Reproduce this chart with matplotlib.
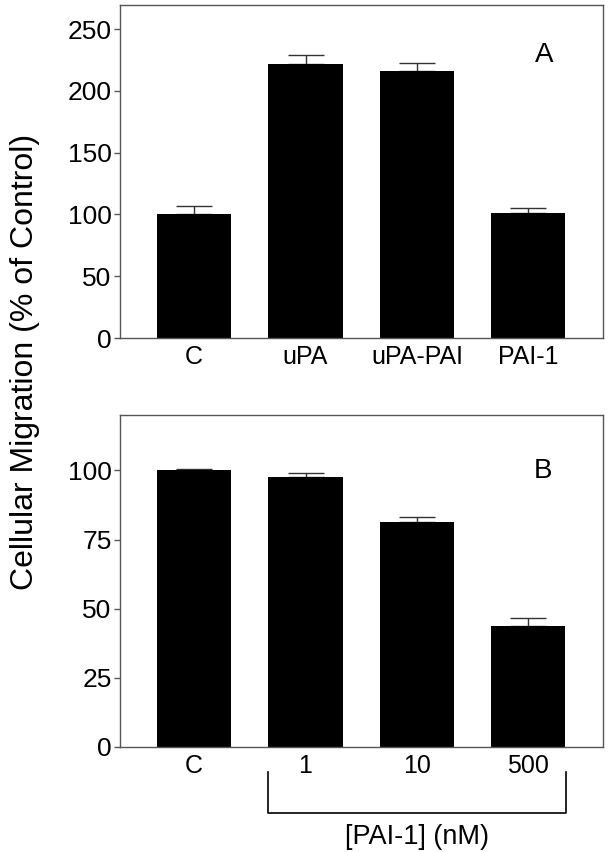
import matplotlib
matplotlib.use("Agg")
import matplotlib.pyplot as plt

plt.rcParams['font.family'] = ['Liberation Sans', 'DejaVu Sans']

# Panel A data
cats_a = ["C", "uPA", "uPA-PAI", "PAI-1"]
vals_a = [100, 222, 216, 101]
errs_a = [6.5, 7.5, 7, 4]

# Panel B data
cats_b = ["C", "1", "10", "500"]
vals_b = [100, 97.7, 81.5, 43.9]
errs_b = [0.6, 1.2, 1.6, 2.6]

spine_col = "#555555"
W, H = 608, 852
fig = plt.figure(figsize=(W / 100, H / 100), dpi=100)

ax_a = fig.add_axes([120 / W, 1 - 338 / H, 483 / W, 333.5 / H])
ax_b = fig.add_axes([120 / W, 1 - 747 / H, 483 / W, 332 / H])


def draw_panel(ax, cats, vals, errs, ylim, yticks, letter, lpos):
    x = list(range(len(cats)))
    ax.bar(x, vals, width=0.665, color="black", zorder=2)
    ax.errorbar(x, vals, yerr=[[0] * len(errs), errs], fmt="none",
                ecolor="#333333", elinewidth=1, capsize=13.3, capthick=1, zorder=1)
    ax.set_xlim(-0.665, 3.67)
    ax.set_ylim(*ylim)
    ax.set_yticks(yticks)
    ax.set_xticks(x)
    ax.set_xticklabels(cats, fontsize=18)
    ax.tick_params(axis="x", length=0, pad=5)
    ax.tick_params(axis="y", length=4, width=1, color=spine_col, labelsize=19, pad=2)
    for s in ax.spines.values():
        s.set_color(spine_col)
        s.set_linewidth(1)
    ax.text(lpos[0], lpos[1], letter, transform=ax.transAxes, fontsize=20,
            ha="center", va="center")


draw_panel(ax_a, cats_a, vals_a, errs_a, (0, 270), [0, 50, 100, 150, 200, 250], "A", (0.878, 0.849))
draw_panel(ax_b, cats_b, vals_b, errs_b, (0, 120), [0, 25, 50, 75, 100], "B", (0.876, 0.831))

# bracket under the PAI-1 concentrations
tr = ax_b.get_xaxis_transform()
x0, x1 = 1 - 0.335, 3 + 0.335
ax_b.plot([x0, x0, x1, x1], [-0.075, -0.199, -0.199, -0.075], color="black",
          lw=1.2, transform=tr, clip_on=False)
ax_b.text(2, -0.271, "[PAI-1] (nM)", transform=tr, ha="center", va="center", fontsize=19.5)

fig.text(25 / W, 1 - 362 / H, "Cellular Migration (% of Control)", rotation=90,
         ha="center", va="center", fontsize=23)

fig.savefig("out.png", dpi=100)
